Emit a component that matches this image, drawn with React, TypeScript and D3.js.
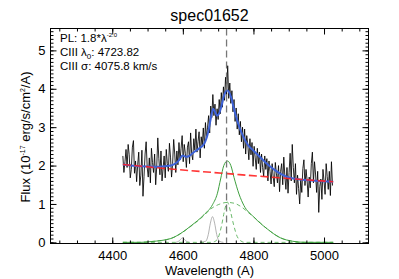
import * as d3 from "d3";
import React, { useEffect, useRef } from "react";

// observed spectrum, 3 A sampling starting at 4430 A
const WAVE_START = 4430;
const WAVE_STEP = 3;
const fluxObs = [
  2.25, 1.82, 2.1, 2.42, 1.95, 2.55, 2.28, 1.68, 1.9, 2.48,
  2.65, 1.8, 2.12, 1.58, 2.02, 2.35, 1.48, 1.75, 2.4, 1.2,
  1.72, 2.3, 2.62, 1.95, 1.7, 2.2, 1.55, 2.45, 2.08, 1.82,
  2.3, 1.5, 1.98, 2.72, 2.18, 1.76, 2.38, 1.6, 1.92, 2.25,
  1.68, 2.42, 2.05, 1.85, 2.58, 2.22, 1.7, 2.05, 2.68, 2.3,
  1.82, 2.38, 2.02, 2.6, 2.15, 2.45, 2.78, 2.1, 2.55, 2.32,
  1.95, 2.48, 2.62, 2.05, 2.85, 2.3, 2.15, 2.7, 2.4, 2.95,
  2.35, 2.62, 2.88, 2.2, 2.75, 2.52, 2.98, 2.45, 3.12, 2.7,
  3.0, 3.3, 2.85, 3.55, 3.25, 3.85, 3.3, 3.6, 3.05, 3.48,
  3.2, 3.72, 3.35, 3.9, 3.52, 4.05, 3.7, 4.3, 3.85, 4.6,
  3.75, 4.15, 3.62, 3.95, 3.4, 3.72, 3.15, 3.5, 2.95, 3.35,
  2.8, 3.15, 2.62, 3.0, 2.45, 2.95, 2.3, 2.78, 2.55, 2.15,
  2.7, 2.28, 2.6, 1.98, 2.5, 2.2, 1.9, 2.45, 2.05, 2.35,
  1.82, 2.3, 1.95, 1.72, 2.25, 1.9, 2.18, 1.6, 2.12, 1.85,
  1.52, 2.05, 1.7, 1.45, 2.08, 1.8, 1.55, 2.0, 1.32, 1.85,
  2.05, 1.5, 2.22, 1.72, 1.38, 1.95, 1.28, 1.82, 2.32, 1.6,
  2.55, 1.95, 1.55, 2.05, 1.25, 1.75, 1.4, 1.0, 1.65, 1.3,
  1.92, 2.15, 1.48, 1.9, 1.62, 1.18, 1.7, 1.42, 2.05, 2.35,
  1.55, 2.1, 1.78, 1.3, 1.85, 0.78, 1.45, 1.65, 1.12, 1.9,
  1.6, 1.25, 2.05, 1.72, 1.38, 1.85, 1.22, 2.1, 1.48,
];

// total model (blue)
const modelWave = [4430, 4480, 4520, 4550, 4566, 4580, 4590, 4599, 4608, 4618, 4630, 4645, 4660, 4672, 4679, 4686, 4692, 4697, 4702, 4708, 4716, 4725, 4736, 4745, 4759, 4773, 4785, 4801, 4820, 4839, 4858, 4876, 4900, 4940, 4980, 5026];
const modelFlux = [2.03, 1.98, 1.97, 1.985, 2.0, 2.06, 2.15, 2.26, 2.23, 2.25, 2.34, 2.44, 2.56, 2.88, 3.22, 3.48, 3.38, 3.3, 3.34, 3.5, 3.8, 3.96, 3.8, 3.47, 3.03, 2.72, 2.53, 2.38, 2.21, 2.04, 1.9, 1.79, 1.69, 1.63, 1.6, 1.58];

// power-law continuum (red dashed)
const plWave = [4430, 4566, 4726, 4876, 5026];
const plFlux = [2.03, 1.91, 1.79, 1.68, 1.58];

// CIII total line (green solid)
const lineWave = [4430, 4480, 4510, 4540, 4566, 4600, 4623, 4660, 4684, 4698, 4707, 4716, 4726, 4736, 4745, 4759, 4773, 4801, 4839, 4876, 4910, 4945, 5026];
const lineFlux = [0, 0, 0.02, 0.05, 0.1, 0.27, 0.43, 0.72, 0.98, 1.28, 1.65, 2.0, 2.12, 2.0, 1.69, 1.26, 0.96, 0.66, 0.35, 0.12, 0.03, 0, 0];

// broad component (green dashed)
const broadWave = [4430, 4480, 4510, 4566, 4623, 4660, 4679, 4700, 4726, 4745, 4768, 4785, 4801, 4839, 4876, 4910, 4945, 5026];
const broadFlux = [0, 0, 0.02, 0.1, 0.42, 0.7, 0.87, 0.98, 1.04, 1.02, 0.91, 0.78, 0.66, 0.35, 0.12, 0.03, 0, 0];

// narrow component (green dashed)
const narrowWave = [4430, 4680, 4690, 4700, 4710, 4717, 4726, 4735, 4744, 4754, 4764, 4775, 5026];
const narrowFlux = [0, 0, 0.02, 0.12, 0.45, 0.78, 1.05, 0.8, 0.45, 0.15, 0.04, 0, 0];

// other weak lines (gray)
const grayAWave = [4650, 4665, 4672, 4678, 4684, 4690, 4696, 4703, 4715];
const grayAFlux = [0, 0.03, 0.2, 0.5, 0.67, 0.5, 0.2, 0.03, 0];
const grayBWave = [4580, 4588, 4594, 4599, 4604, 4610, 4618];
const grayBFlux = [0, 0.03, 0.08, 0.12, 0.08, 0.03, 0];

const xMajor = [4400, 4600, 4800, 5000];
const yMajor = [0, 1, 2, 3, 4, 5];
const LAMBDA0 = 4723.82;

const FONT = "Liberation Sans, Arial, Helvetica, sans-serif";

const zip = (xs: number[], ys: number[]) => xs.map((v, i) => [v, ys[i]] as [number, number]);

export default function App() {
  const svgRef = useRef<SVGSVGElement | null>(null);

  useEffect(() => {
    if (!svgRef.current) return;
    const svg = d3.select(svgRef.current);
    svg.selectAll("*").remove();

    const left = 50.5, right = 368.5, top = 28.5, bottom = 243.5;
    const x = d3.scaleLinear().domain([4225, 5126]).range([left, right]);
    const y = d3.scaleLinear().domain([-0.03, 5.57]).range([bottom, top]);

    svg.append("defs").append("clipPath").attr("id", "plot")
      .append("rect").attr("x", left).attr("y", top).attr("width", right - left).attr("height", bottom - top);

    const g = svg.append("g").attr("clip-path", "url(#plot)");

    const line = d3.line<[number, number]>().x((d) => x(d[0])).y((d) => y(d[1]));
    const smooth = d3.line<[number, number]>().x((d) => x(d[0])).y((d) => y(d[1])).curve(d3.curveMonotoneX);

    const spec = fluxObs.map((f, i) => [WAVE_START + i * WAVE_STEP, f] as [number, number]);
    g.append("path").attr("d", line(spec)!).attr("fill", "none").attr("stroke", "#000").attr("stroke-width", 0.85);

    // components
    [[grayBWave, grayBFlux], [grayAWave, grayAFlux]].forEach(([w, f]) => {
      g.append("path").attr("d", smooth(zip(w, f))!).attr("fill", "none").attr("stroke", "#aaaaaa").attr("stroke-width", 0.9);
    });
    g.append("path").attr("d", smooth(zip(broadWave, broadFlux))!).attr("fill", "none")
      .attr("stroke", "#5cb25c").attr("stroke-width", 0.9).attr("stroke-dasharray", "4,3");
    g.append("path").attr("d", smooth(zip(narrowWave, narrowFlux))!).attr("fill", "none")
      .attr("stroke", "#5cb25c").attr("stroke-width", 0.9).attr("stroke-dasharray", "4,3");
    g.append("path").attr("d", smooth(zip(lineWave, lineFlux))!).attr("fill", "none")
      .attr("stroke", "#3f9f3f").attr("stroke-width", 1);

    // model + continuum
    g.append("path").attr("d", smooth(zip(modelWave, modelFlux))!).attr("fill", "none")
      .attr("stroke", "#3d62d8").attr("stroke-width", 2);
    g.append("path").attr("d", smooth(zip(plWave, plFlux))!).attr("fill", "none")
      .attr("stroke", "#ff2020").attr("stroke-width", 1.6).attr("stroke-dasharray", "8,3.5").attr("opacity", 0.9);

    // line centre
    g.append("line").attr("x1", x(LAMBDA0)).attr("x2", x(LAMBDA0)).attr("y1", top).attr("y2", bottom)
      .attr("stroke", "#777").attr("stroke-width", 1.3).attr("stroke-dasharray", "7,4");

    // axes
    const styleAxis = (sel: d3.Selection<SVGGElement, unknown, null, undefined>) => {
      sel.attr("color", "#000").attr("font-family", FONT).attr("font-size", 13);
      sel.select(".domain").remove();
    };
    const xMinor = d3.range(4250, 5126, 50);
    const yMinor = d3.range(0, 56).map((i) => i / 10);

    svg.append("g").attr("transform", `translate(0,${bottom})`)
      .call(d3.axisBottom(x).tickValues(xMajor).tickSize(-6).tickPadding(7).tickFormat(d3.format("d")))
      .call(styleAxis);
    svg.append("g").attr("transform", `translate(0,${bottom})`)
      .call(d3.axisBottom(x).tickValues(xMinor).tickSize(-3).tickFormat(() => ""))
      .call(styleAxis);
    svg.append("g").attr("transform", `translate(0,${top})`)
      .call(d3.axisTop(x).tickValues(xMajor).tickSize(-6).tickFormat(() => ""))
      .call(styleAxis);
    svg.append("g").attr("transform", `translate(0,${top})`)
      .call(d3.axisTop(x).tickValues(xMinor).tickSize(-3).tickFormat(() => ""))
      .call(styleAxis);
    svg.append("g").attr("transform", `translate(${left},0)`)
      .call(d3.axisLeft(y).tickValues(yMajor).tickSize(-6).tickPadding(5).tickFormat(d3.format("d")))
      .call(styleAxis);
    svg.append("g").attr("transform", `translate(${left},0)`)
      .call(d3.axisLeft(y).tickValues(yMinor).tickSize(-3).tickFormat(() => ""))
      .call(styleAxis);
    svg.append("g").attr("transform", `translate(${right},0)`)
      .call(d3.axisRight(y).tickValues(yMajor).tickSize(-6).tickFormat(() => ""))
      .call(styleAxis);
    svg.append("g").attr("transform", `translate(${right},0)`)
      .call(d3.axisRight(y).tickValues(yMinor).tickSize(-3).tickFormat(() => ""))
      .call(styleAxis);

    svg.append("rect").attr("x", left).attr("y", top).attr("width", right - left).attr("height", bottom - top)
      .attr("fill", "none").attr("stroke", "#000").attr("stroke-width", 1);

    // titles
    svg.append("text").attr("x", (left + right) / 2).attr("y", 21).attr("text-anchor", "middle")
      .attr("font-family", FONT).attr("font-size", 16).text("spec01652");
    svg.append("text").attr("x", (left + right) / 2).attr("y", 275).attr("text-anchor", "middle")
      .attr("font-family", FONT).attr("font-size", 13).text("Wavelength (A)");

    const yl = svg.append("text").attr("transform", "translate(30,137) rotate(-90)").attr("text-anchor", "middle")
      .attr("font-family", FONT).attr("font-size", 13);
    yl.append("tspan").text("Flux (10");
    yl.append("tspan").attr("dy", -5).attr("font-size", 7).text("-17");
    yl.append("tspan").attr("dy", 5).text(" erg/s/cm");
    yl.append("tspan").attr("dy", -5).attr("font-size", 7).text("2");
    yl.append("tspan").attr("dy", 5).text("/A)");

    // annotations
    const ann = svg.append("g").attr("font-family", FONT).attr("font-size", 11.5);
    const t1 = ann.append("text").attr("x", 60).attr("y", 41.5);
    t1.append("tspan").text("PL: 1.8*\u03bb");
    t1.append("tspan").attr("dy", -5).attr("font-size", 6).text("-2.0");
    const t2 = ann.append("text").attr("x", 60).attr("y", 55.5);
    t2.append("tspan").text("CIII \u03bb");
    t2.append("tspan").attr("dy", 3).attr("font-size", 8).text("0");
    t2.append("tspan").attr("dy", -3).text(": 4723.82");
    ann.append("text").attr("x", 60).attr("y", 69.5).text("CIII \u03c3: 4075.8 km/s");
  }, []);

  return (
    <svg ref={svgRef} width={399} height={279} style={{ position: "absolute", left: 0, top: 0, background: "#fff" }} />
  );
}
